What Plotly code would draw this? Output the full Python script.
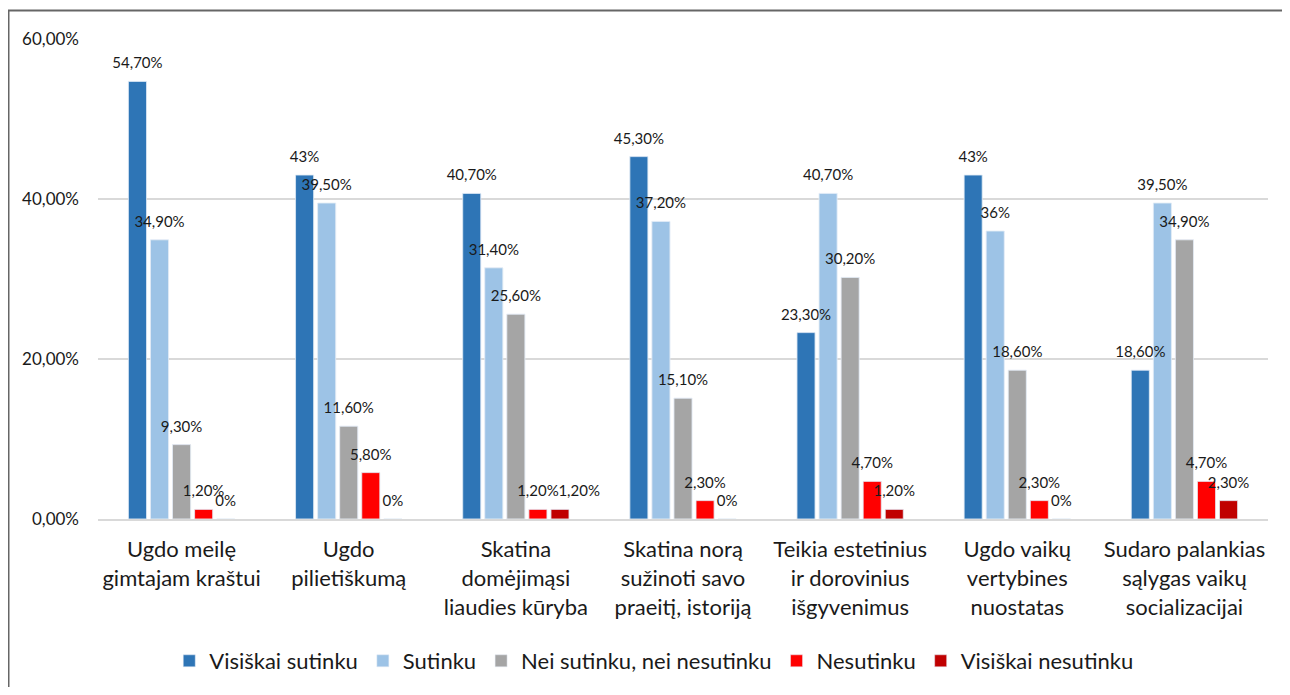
import plotly.graph_objects as go

categories = [
    "Ugdo meilę<br>gimtajam kraštui",
    "Ugdo<br>pilietiškumą",
    "Skatina<br>domėjimąsi<br>liaudies kūryba",
    "Skatina norą<br>sužinoti savo<br>praeitį, istoriją",
    "Teikia estetinius<br>ir dorovinius<br>išgyvenimus",
    "Ugdo vaikų<br>vertybines<br>nuostatas",
    "Sudaro palankias<br>sąlygas vaikų<br>socializacijai",
]

series_names = [
    "Visiškai sutinku",
    "Sutinku",
    "Nei sutinku, nei nesutinku",
    "Nesutinku",
    "Visiškai nesutinku",
]

visiskai_sutinku = [54.7, 43.0, 40.7, 45.3, 23.3, 43.0, 18.6]
sutinku = [34.9, 39.5, 31.4, 37.2, 40.7, 36.0, 39.5]
nei = [9.3, 11.6, 25.6, 15.1, 30.2, 18.6, 34.9]
nesutinku = [1.2, 5.8, 1.2, 2.3, 4.7, 2.3, 4.7]
visiskai_nesutinku = [0.0, 0.0, 1.2, 0.0, 1.2, 0.0, 2.3]

labels_vs = ["54,70%", "43%", "40,70%", "45,30%", "23,30%", "43%", "18,60%"]
labels_s = ["34,90%", "39,50%", "31,40%", "37,20%", "40,70%", "36%", "39,50%"]
labels_nei = ["9,30%", "11,60%", "25,60%", "15,10%", "30,20%", "18,60%", "34,90%"]
labels_ne = ["1,20%", "5,80%", "1,20%", "2,30%", "4,70%", "2,30%", "4,70%"]
# the label over the 3rd dark red bar is nudged right in the original
labels_vne = ["0%", "0%", "\u00a0" * 10 + "1,20%", "0%", "1,20%", "0%", "2,30%"]

y_tickvals = [0, 20, 40, 60]
y_ticklabels = ["0,00%", "20,00%", "40,00%", "60,00%"]

colors = ["#2e75b6", "#9dc3e6", "#a5a5a5", "#ff0000", "#c00000"]

values = [visiskai_sutinku, sutinku, nei, nesutinku, visiskai_nesutinku]
labels = [labels_vs, labels_s, labels_nei, labels_ne, labels_vne]

FONT = "Lato, 'Open Sans', sans-serif"

fig = go.Figure()
for i, (name, vals, col) in enumerate(zip(series_names, values, colors)):
    fig.add_trace(
        go.Bar(
            x=categories,
            y=vals,
            name=name,
            offsetgroup=str(i),
            marker=dict(color=col),
        )
    )

# labels go in a second, transparent layer so they sit on top of every bar
for i, (vals, labs) in enumerate(zip(values, labels)):
    fig.add_trace(
        go.Bar(
            x=categories,
            y=vals,
            offsetgroup=str(i),
            marker=dict(color="rgba(0,0,0,0)"),
            showlegend=False,
            hoverinfo="skip",
            # small blank second line lifts the label a bit above the bar, like Excel
            text=["<span style='font-size:15px'>" + l + "</span><br> " for l in labs],
            textposition="outside",
            constraintext="none",
            cliponaxis=False,
            textfont=dict(size=7, color="#1a1a1a", family=FONT),
        )
    )

fig.update_layout(
    width=1274,
    height=679,
    barmode="group",
    bargap=0.34,
    bargroupgap=0.18,
    plot_bgcolor="white",
    paper_bgcolor="white",
    margin=dict(l=90, r=14, t=31, b=168),
    font=dict(family=FONT, color="#1a1a1a"),
    showlegend=True,
    legend=dict(
        orientation="h",
        x=0.475,
        xanchor="center",
        yref="container",
        y=1 - 653 / 679,
        yanchor="middle",
        font=dict(size=22, family=FONT, color="#1a1a1a"),
        traceorder="normal",
    ),
    xaxis=dict(
        type="category",
        tickfont=dict(size=22, family=FONT, color="#1a1a1a"),
        showline=True,
        linecolor="#d9d9d9",
        linewidth=2,
        ticks="",
        ticklabelstandoff=10,
    ),
    yaxis=dict(
        range=[0, 60],
        tickvals=y_tickvals,
        ticktext=y_ticklabels,
        showgrid=True,
        gridcolor="#d9d9d9",
        gridwidth=1.5,
        zeroline=False,
        tickfont=dict(size=17, family=FONT, color="#1a1a1a"),
        ticks="",
        ticklabelstandoff=18,
    ),
    shapes=[
        dict(
            type="rect",
            xref="paper",
            yref="paper",
            x0=-89.5 / 1170,
            x1=1.0 + 30 / 1170,
            y0=-1.4,
            y1=1.0 + 28.5 / 480,
            line=dict(color="#666666", width=2),
            fillcolor="rgba(0,0,0,0)",
            layer="above",
        )
    ],
)

fig.write_html("out.html")
